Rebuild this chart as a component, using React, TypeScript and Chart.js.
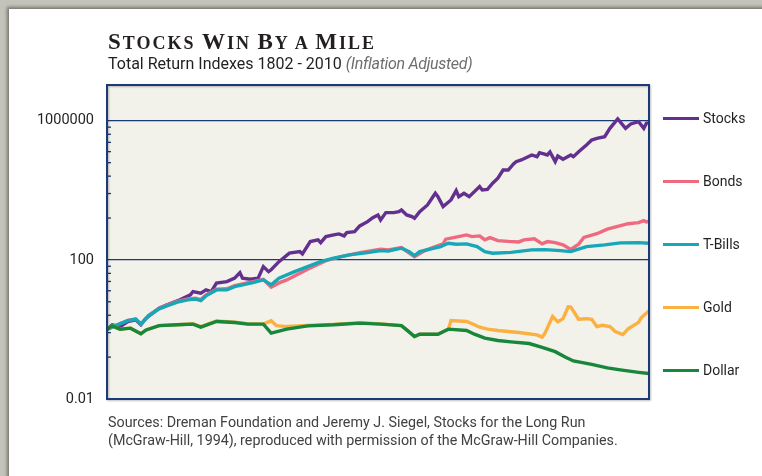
import React, { useEffect, useRef } from "react";
import { Chart, registerables } from "chart.js";

Chart.register(...registerables);

const seriesNames = ["Stocks", "Bonds", "T-Bills", "Gold", "Dollar"];
const seriesColors = ["#63308f", "#ef6a7f", "#16a8b8", "#fbb042", "#17873b"];

const stocksYears = [1802,1804,1807,1810,1813,1815,1817,1822,1825,1830,1834,1835,1838,1840,1842,1844,1848,1851,1853,1854,1857,1860,1862,1864,1865,1868,1872,1876,1877,1880,1883,1884,1886,1889,1891,1893,1894,1897,1899,1902,1904,1906,1907,1909,1912,1914,1915,1917,1919,1920,1922,1925,1928,1929,1931,1934,1936,1937,1939,1941,1945,1946,1948,1950,1952,1954,1956,1958,1959,1961,1965,1967,1968,1971,1972,1974,1975,1977,1980,1981,1983,1986,1988,1990,1993,1995,1998,2001,2003,2006,2008,2009,2010];
const stocksValues = [1,1.35,1.21,1.69,1.89,1.36,2.1,4.1,5.1,7.1,9.9,12.3,11,13.7,12.3,21.4,23.8,29.8,43,29.8,27.9,29.8,64,46,52,89,156,173,149,336,376,314,468,523,559,490,608,650,948,1260,1644,1965,1410,2290,2290,2440,2730,1965,1755,1580,2440,3800,8260,6600,3400,5300,9800,6600,8260,6600,12800,10260,10700,16000,22300,38500,38500,57400,66800,74800,104000,93000,121000,104000,127000,66800,97500,78300,104000,93000,129000,202000,280000,314000,349000,608000,1130000,608000,810000,942000,608000,848000,870000];

const bondsYears = [1802,1806,1810,1813,1815,1818,1822,1825,1829,1833,1836,1838,1840,1844,1848,1851,1854,1858,1862,1865,1868,1871,1879,1886,1892,1899,1907,1910,1915,1920,1924,1928,1931,1932,1935,1940,1942,1945,1947,1949,1952,1956,1960,1962,1966,1969,1971,1974,1977,1980,1983,1985,1990,1994,1998,2002,2006,2008,2009,2010];
const bondsValues = [1,1.36,1.82,2.0,1.45,2.55,4.05,5.0,6.4,7.5,7.9,7.2,9.8,14.5,14.8,18.2,20.3,23.8,27.5,16.4,21.8,26.6,54,95.5,124,162,203,194,226,124,185,241,288,394,437,523,467,489,376,437,359,340,329,376,406,288,336,314,270,200,284,443,566,768,924,1097,1180,1347,1236,1294];

const billsYears = [1802,1806,1810,1813,1815,1818,1822,1825,1829,1833,1836,1838,1840,1844,1848,1851,1854,1858,1862,1865,1868,1874,1879,1884,1889,1895,1902,1907,1910,1915,1918,1920,1922,1926,1930,1933,1936,1940,1944,1947,1950,1957,1965,1970,1976,1980,1986,1993,1999,2006,2010];
const billsValues = [1,1.36,1.80,1.98,1.42,2.46,3.91,4.77,6.09,7.09,7.43,6.77,9.24,13.7,13.7,17.1,19.1,22.3,26.6,19.1,29.8,46.1,64.2,89.3,112,139,162,185,181,217,173,133,173,203,241,302,283,288,241,173,156,164,194,198,185,173,241,270,308,314,302];

const goldYears = [1802,1804,1807,1811,1815,1817,1822,1829,1835,1838,1844,1851,1856,1862,1865,1867,1871,1879,1889,1899,1907,1915,1917,1920,1922,1929,1933,1934,1940,1943,1945,1948,1952,1960,1967,1969,1970,1973,1975,1977,1979,1980,1983,1986,1988,1990,1992,1995,1997,2000,2002,2006,2007,2010];
const goldValues = [1,1.27,1.02,1.09,0.75,0.97,1.29,1.36,1.46,1.2,1.74,1.63,1.46,1.42,1.77,1.29,1.21,1.3,1.4,1.56,1.45,1.29,0.97,0.625,0.73,0.73,1.02,1.8,1.69,1.36,1.16,1.02,0.93,0.815,0.7,0.6,0.76,2.35,1.65,2.04,4.46,4.4,1.98,2.04,1.95,1.21,1.32,1.21,0.87,0.713,1.05,1.6,2.16,3.47];

const dollarYears = [1802,1804,1807,1811,1815,1817,1822,1829,1835,1838,1844,1851,1856,1862,1865,1871,1879,1889,1899,1907,1915,1917,1920,1922,1929,1933,1940,1943,1947,1952,1957,1964,1969,1974,1978,1981,1988,1994,1999,2006,2010];
const dollarValues = [1,1.27,1.02,1.09,0.75,0.97,1.29,1.36,1.42,1.16,1.69,1.58,1.42,1.42,0.78,1.02,1.27,1.36,1.52,1.42,1.29,0.97,0.625,0.73,0.73,1.02,0.93,0.73,0.56,0.48,0.44,0.394,0.306,0.23,0.158,0.124,0.0993,0.0788,0.069,0.0585,0.054];

const yTickValues = [0.01, 100, 1000000];
const yTickLabels = ["0.01", "100", "1000000"];
const yMinorTicks = [0.16, 0.81, 2.56, 6.25, 12.96, 24.01, 40.96, 65.61, 1600, 8100, 25600, 62500, 129600, 240100, 409600, 656100];
const yMin = 0.01;
const yMax = 1.07e7;
const xMin = 1802;
const xMax = 2010;

const titleWords = [["S", "TOCKS"], ["W", "IN"], ["B", "Y"], ["", "A"], ["M", "ILE"]];
const subtitleMain = "Total Return Indexes 1802 - 2010";
const subtitleNote = "(Inflation Adjusted)";
const sourceLines = [
  "Sources: Dreman Foundation and Jeremy J. Siegel, Stocks for the Long Run",
  "(McGraw-Hill, 1994), reproduced with permission of the McGraw-Hill Companies.",
];

const NAVY = "#1c3978";
const PLOT_BG = "#f2f1ea";
const TEXT = "#231f20";

const framePlugin = {
  id: "frame",
  beforeDraw(chart: any) {
    const { ctx, chartArea: a } = chart;
    ctx.save();
    ctx.fillStyle = PLOT_BG;
    ctx.fillRect(a.left, a.top, a.right - a.left, a.bottom - a.top);
    ctx.restore();
  },
  afterDatasetsDraw(chart: any) {
    const { ctx, chartArea: a } = chart;
    const y = chart.scales.y;
    ctx.save();
    ctx.strokeStyle = NAVY;
    ctx.lineWidth = 1.3;
    yMinorTicks.forEach((v) => {
      const py = y.getPixelForValue(v);
      ctx.beginPath();
      ctx.moveTo(a.left, py);
      ctx.lineTo(a.left + 4, py);
      ctx.stroke();
    });
    ctx.shadowColor = "rgba(0,0,0,0.25)";
    ctx.shadowOffsetX = 1;
    ctx.shadowOffsetY = 1;
    ctx.shadowBlur = 2;
    ctx.lineWidth = 2;
    ctx.strokeRect(a.left, a.top, a.right - a.left, a.bottom - a.top);
    ctx.restore();
  },
};

export default function App() {
  const ref = useRef<HTMLCanvasElement>(null);

  useEffect(() => {
    const canvas = ref.current;
    if (!canvas) return;
    const seriesYears = [stocksYears, bondsYears, billsYears, goldYears, dollarYears];
    const seriesValues = [stocksValues, bondsValues, billsValues, goldValues, dollarValues];
    const chart = new Chart(canvas, {
      type: "line",
      data: {
        datasets: seriesNames.map((name, i) => ({
          label: name,
          data: seriesYears[i].map((yr, j) => ({ x: yr, y: seriesValues[i][j] })),
          borderColor: seriesColors[i],
          backgroundColor: seriesColors[i],
          borderWidth: 3.4,
          pointRadius: 0,
          tension: 0,
          fill: false,
          order: seriesNames.length - 1 - i,
        })),
      },
      options: {
        responsive: false,
        animation: false,
        events: [],
        layout: { padding: { left: 0, top: 85, right: 113, bottom: 77 } },
        plugins: {
          legend: { display: false },
          tooltip: { enabled: false },
          title: { display: false },
        },
        scales: {
          x: { type: "linear", min: xMin, max: xMax, display: false },
          y: {
            type: "logarithmic",
            min: yMin,
            max: yMax,
            afterBuildTicks: (s: any) => {
              s.ticks = yTickValues.map((v) => ({ value: v }));
            },
            afterFit: (s: any) => {
              s.width = 107;
            },
            ticks: {
              autoSkip: false,
              maxRotation: 0,
              padding: 13,
              color: TEXT,
              font: { family: "Roboto", size: 14.5 },
              callback: (_v: any, index: number) => yTickLabels[index],
            },
            grid: {
              drawTicks: false,
              lineWidth: 1.3,
              color: (c: any) => (c.tick && c.tick.value === yMin ? "rgba(0,0,0,0)" : NAVY),
            },
            border: { display: false },
          },
        },
      },
      plugins: [framePlugin],
    } as any);
    return () => chart.destroy();
  }, []);

  return (
    <div style={{ position: "fixed", left: 0, top: 0, width: 762, height: 476, overflow: "hidden", background: "#c3c3bb" }}>
      <div style={{ position: "absolute", left: 9, top: 9, width: 800, height: 520, background: "#ffffff", boxShadow: "-2px -2px 3px rgba(60,60,50,0.55)" }} />
      <canvas ref={ref} width={762} height={476} style={{ position: "absolute", left: 0, top: 0 }} />
      <div style={{ position: "absolute", left: 108, top: 30, fontFamily: '"Liberation Serif", serif', fontWeight: 700, color: TEXT, fontSize: 18, lineHeight: "24px", whiteSpace: "nowrap", letterSpacing: "2px" }}>
        {titleWords.map((w, i) => (
          <span key={i}>
            {i > 0 ? " " : ""}
            {w[0] ? <span style={{ fontSize: 23 }}>{w[0]}</span> : null}
            <span style={{ fontSize: 18 }}>{w[1]}</span>
          </span>
        ))}
      </div>
      <div style={{ position: "absolute", left: 108, top: 54, fontFamily: "Roboto, sans-serif", fontSize: 16, lineHeight: "20px", color: TEXT, whiteSpace: "nowrap" }}>
        {subtitleMain}{" "}
        <span style={{ fontStyle: "italic", color: "#6d6e71", letterSpacing: "-0.3px" }}>{subtitleNote}</span>
      </div>
      {seriesNames.map((name, i) => (
        <div key={name} style={{ position: "absolute", left: 663, top: 110 + i * 63, height: 16, whiteSpace: "nowrap" }}>
          <div style={{ position: "absolute", left: 0, top: 7, width: 36, height: 3, background: seriesColors[i] }} />
          <div style={{ position: "absolute", left: 40, top: 0, fontFamily: "Roboto, sans-serif", fontSize: 14, lineHeight: "16px", color: TEXT }}>{name}</div>
        </div>
      ))}
      <div style={{ position: "absolute", left: 108, top: 413, fontFamily: "Roboto, sans-serif", fontSize: 14.3, lineHeight: "18px", color: "#414042", whiteSpace: "nowrap" }}>
        {sourceLines.map((l, i) => (
          <div key={i}>{l}</div>
        ))}
      </div>
    </div>
  );
}
